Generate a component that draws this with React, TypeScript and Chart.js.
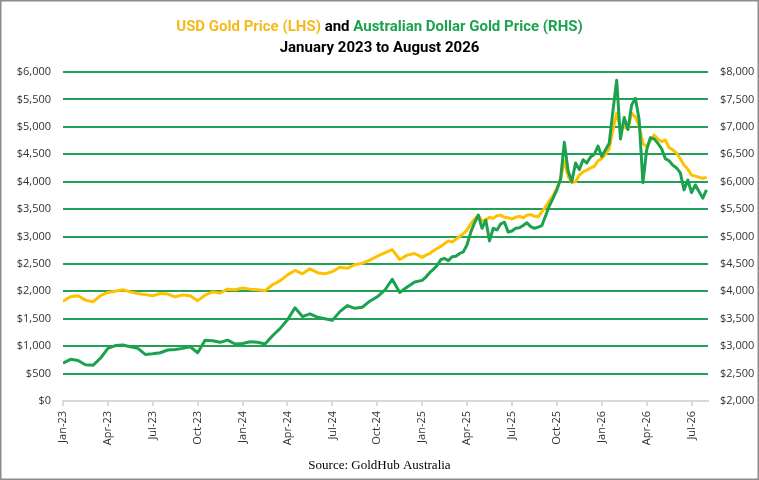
import { useEffect, useRef } from "react";
import { Chart, registerables } from "chart.js";

Chart.register(...registerables);

const GOLD = "#FFC000";
const GOLD_TEXT = "#F4B91A";
const GREEN = "#1CA24E";
const GRID_GREEN = "#22A055";

// Jan-23 = month 0. Semi-monthly samples up to Jan-25, then quarter-month samples.
const earlyUsd = [
  1820, 1900, 1920, 1840, 1810, 1920, 1980, 2000, 2030, 1990,
  1960, 1940, 1920, 1960, 1950, 1900, 1935, 1920, 1830, 1930,
  1990, 1970, 2040, 2030, 2060, 2040, 2030, 2010, 2120, 2190,
  2300, 2380, 2320, 2410, 2340, 2320, 2360, 2440, 2420, 2490,
  2510, 2570, 2640, 2700, 2760, 2580, 2660, 2690, 2620,
];
const earlyAud = [
  2690, 2760, 2740, 2660, 2650, 2780, 2960, 3010, 3020, 2990,
  2960, 2850, 2860, 2880, 2930, 2940, 2960, 2990, 2880, 3110,
  3100, 3070, 3110, 3040, 3050, 3080, 3070, 3040, 3190, 3320,
  3480, 3700, 3540, 3590, 3530, 3500, 3470, 3630, 3740, 3690,
  3710, 3820, 3900, 4020, 4220, 3980, 4080, 4170, 4200,
];
const lateUsd = [
  2660, 2690, 2740, 2780, 2820, 2870, 2920, 2900, 2950, 3000,
  3050, 3120, 3230, 3320, 3390, 3280, 3300, 3350, 3330, 3380,
  3390, 3350, 3340, 3320, 3350, 3370, 3340, 3390, 3400, 3370,
  3360, 3450, 3540, 3650, 3750, 3880, 4050, 4380, 4100, 3980,
  4000, 4120, 4180, 4210, 4250, 4280, 4380, 4420, 4500, 4600,
  4950, 5250, 4980, 5000, 4960, 5250, 5180, 5000, 4700, 4640,
  4750, 4850, 4780, 4730, 4760, 4620, 4580, 4520, 4420, 4300,
  4230, 4120, 4100, 4080, 4060, 4080,
];
const lateAud = [
  4260, 4340, 4400, 4470, 4580, 4600, 4560, 4630, 4640, 4690,
  4720, 4850, 5080, 5250, 5390, 5150, 5300, 4920, 5150, 5120,
  5230, 5260, 5080, 5100, 5150, 5160, 5200, 5250, 5180, 5150,
  5170, 5200, 5380, 5560, 5700, 5850, 6050, 6720, 6200, 6000,
  6340, 6220, 6400, 6340, 6450, 6500, 6650, 6460, 6580, 6700,
  7300, 7850, 6780, 7170, 6950, 7400, 7520, 7130, 5980, 6580,
  6800, 6780, 6700, 6600, 6420, 6380, 6300, 6250, 6160, 5850,
  6030, 5800, 5940, 5820, 5700, 5850,
];

const tickMonths = [0, 3, 6, 9, 12, 15, 18, 21, 24, 27, 30, 33, 36, 39, 42];
const tickLabels = [
  "Jan-23", "Apr-23", "Jul-23", "Oct-23", "Jan-24", "Apr-24", "Jul-24", "Oct-24",
  "Jan-25", "Apr-25", "Jul-25", "Oct-25", "Jan-26", "Apr-26", "Jul-26",
];

const titleParts = [
  { text: "USD Gold Price (LHS)", color: GOLD_TEXT },
  { text: " and ", color: "#000000" },
  { text: "Australian Dollar Gold Price (RHS)", color: GREEN },
];
const subtitle = "January 2023 to August 2026";
const source = "Source: GoldHub Australia";

function toPoints(early: number[], late: number[]) {
  const pts = early.map((y, i) => ({ x: i * 0.5, y }));
  late.forEach((y, i) => pts.push({ x: 24.25 + i * 0.25, y }));
  return pts;
}

const money = (v: number) => "$" + Number(v).toLocaleString("en-US");

const framePlugin = {
  id: "frame",
  beforeDraw(chart: Chart) {
    const { ctx, width, height } = chart;
    ctx.save();
    ctx.fillStyle = "#ffffff";
    ctx.fillRect(0, 0, width, height);
    ctx.restore();
  },
  afterDraw(chart: Chart) {
    const { ctx, width, height } = chart;
    ctx.save();
    // two-colour title, squeezed a little to match the condensed original
    ctx.font = "bold 15px Roboto";
    ctx.textBaseline = "alphabetic";
    const widths = titleParts.map((p) => ctx.measureText(p.text).width);
    const total = widths.reduce((a, b) => a + b, 0);
    const sx = Math.min(1, 436 / total);
    ctx.translate(width / 2, 0);
    ctx.scale(sx, 1);
    let x = -total / 2;
    ctx.textAlign = "left";
    titleParts.forEach((p, i) => {
      ctx.fillStyle = p.color;
      ctx.fillText(p.text, x, 31);
      x += widths[i];
    });
    ctx.fillStyle = "#000000";
    ctx.textAlign = "center";
    ctx.fillText(subtitle, 0, 52);
    ctx.restore();

    ctx.save();
    ctx.font = "13px 'Liberation Serif'";
    ctx.fillStyle = "#000000";
    ctx.textAlign = "center";
    ctx.textBaseline = "middle";
    ctx.fillText(source, width / 2, 466);
    ctx.strokeStyle = "#8c8c8c";
    ctx.lineWidth = 1.5;
    ctx.strokeRect(0.75, 0.75, width - 1.5, height - 1.5);
    ctx.restore();
  },
};

export default function App() {
  const canvasRef = useRef<HTMLCanvasElement>(null);
  const chartRef = useRef<Chart | null>(null);

  useEffect(() => {
    document.body.style.margin = "0";
    if (!canvasRef.current) return;
    if (chartRef.current) chartRef.current.destroy();

    const tickFont = { family: "'Open Sans'", size: 11 };

    chartRef.current = new Chart(canvasRef.current, {
      type: "line",
      data: {
        datasets: [
          {
            label: "Australian Dollar Gold Price (RHS)",
            data: toPoints(earlyAud, lateAud),
            yAxisID: "y1",
            borderColor: GREEN,
            borderWidth: 3,
            pointRadius: 0,
            tension: 0,
            borderJoinStyle: "round",
          },
          {
            label: "USD Gold Price (LHS)",
            data: toPoints(earlyUsd, lateUsd),
            yAxisID: "y",
            borderColor: GOLD,
            borderWidth: 3,
            pointRadius: 0,
            tension: 0,
            borderJoinStyle: "round",
          },
        ],
      },
      options: {
        responsive: true,
        maintainAspectRatio: false,
        animation: false,
        layout: { padding: { top: 72, left: 0, right: 0, bottom: 0 } },
        plugins: {
          legend: { display: false },
          tooltip: { enabled: false },
          title: { display: false },
        },
        scales: {
          x: {
            type: "linear",
            min: 0,
            max: 43.1,
            afterBuildTicks: (axis: any) => {
              axis.ticks = tickMonths.map((v) => ({ value: v }));
            },
            afterFit: (axis: any) => {
              axis.height = 79;
            },
            border: { display: true, color: "#d9d9d9", width: 2 },
            grid: {
              drawOnChartArea: false,
              drawTicks: true,
              tickLength: 5,
              color: "#d9d9d9",
              lineWidth: 2,
            },
            ticks: {
              autoSkip: false,
              minRotation: 90,
              maxRotation: 90,
              padding: 5,
              color: "#333333",
              font: tickFont,
              callback: (v: any) => tickLabels[tickMonths.indexOf(Number(v))] ?? null,
            },
          },
          y: {
            position: "left",
            min: 0,
            max: 6000,
            afterFit: (axis: any) => {
              axis.width = 63;
            },
            border: { display: false },
            grid: {
              drawTicks: false,
              lineWidth: 2,
              color: (c: any) => (c.tick && c.tick.value === 0 ? "rgba(0,0,0,0)" : GRID_GREEN),
            },
            ticks: {
              stepSize: 500,
              padding: 12,
              color: "#333333",
              font: tickFont,
              callback: (v: any) => money(v),
            },
          },
          y1: {
            position: "right",
            min: 2000,
            max: 8000,
            afterFit: (axis: any) => {
              axis.width = 51;
            },
            border: { display: false },
            grid: { display: false, drawOnChartArea: false, drawTicks: false },
            ticks: {
              stepSize: 500,
              padding: 12,
              color: "#333333",
              font: tickFont,
              callback: (v: any) => money(v),
            },
          },
        },
      },
      plugins: [framePlugin],
    });

    return () => {
      if (chartRef.current) {
        chartRef.current.destroy();
        chartRef.current = null;
      }
    };
  }, []);

  return (
    <div style={{ position: "relative", width: 759, height: 480 }}>
      <canvas ref={canvasRef}></canvas>
    </div>
  );
}
